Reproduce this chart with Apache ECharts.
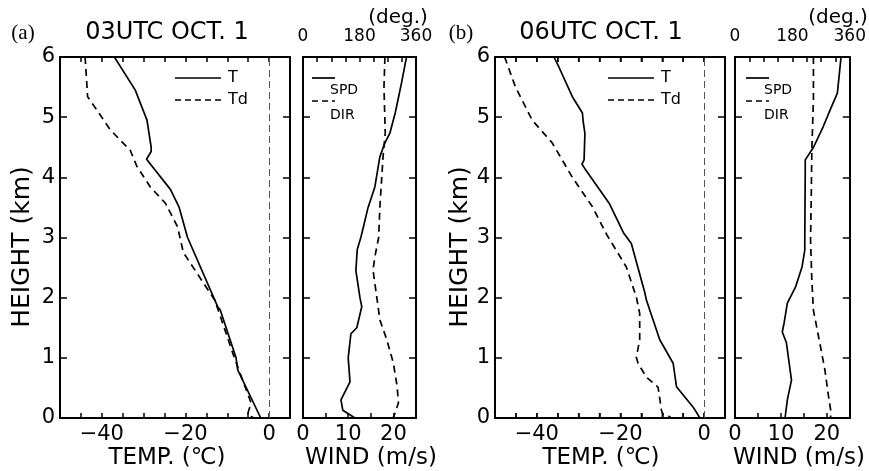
<!DOCTYPE html>
<html>
<head>
<meta charset="utf-8">
<title>Soundings 1 Oct</title>
<script src="https://cdn.jsdelivr.net/npm/echarts@6/dist/echarts.min.js"></script>
<style>
html, body { margin: 0; padding: 0; background: #fff; }
#chart { width: 869px; height: 471px; }
</style>
</head>
<body>
<div id="chart"></div>
<script>
// values: [x value, height km]
const tempA = [[-37, 6], [-32, 5.45], [-29.2, 4.95], [-28.2, 4.5], [-28.2, 4.43], [-29.3, 4.3], [-23.6, 3.8], [-21.5, 3.5], [-19.5, 3], [-12.3, 1.85], [-11.7, 1.8], [-7.9, 1], [-7.5, 0.8], [-2, 0]]
const dewA = [[-44, 6], [-43.6, 5.57], [-43.4, 5.34], [-41.2, 5.12], [-38, 4.79], [-33.2, 4.45], [-31.6, 4.18], [-28.4, 3.84], [-24.8, 3.57], [-21.9, 3.18], [-20.5, 2.75], [-13, 1.96], [-12.2, 1.8], [-8.3, 1], [-4.3, 0.25], [-5.2, 0.05], [-3.5, 0]]
const spdA = [[22.9, 6], [21.8, 5.57], [20.4, 5.07], [19.2, 4.73], [18.1, 4.57], [17, 4.34], [15.9, 3.84], [14.4, 3.5], [12.8, 3], [12, 2.8], [11.7, 2.45], [12.6, 2], [13, 1.85], [11.9, 1.5], [10.6, 1.4], [10, 1], [10.4, 0.6], [8.4, 0.3], [8.8, 0.13], [11.5, 0]]
const dirA = [[261, 6], [258, 5.5], [262, 4.73], [255, 4.34], [245, 3.51], [241, 3], [229, 2.68], [223, 2.46], [235, 2.01], [245, 1.63], [267, 1.3], [288, 0.91], [300, 0.52], [304, 0.25], [293, 0.08], [287, 0]]

const tempB = [[-35.9, 6], [-34.7, 5.83], [-31.5, 5.34], [-29.1, 5.07], [-28.9, 4.92], [-28.5, 4.73], [-28.7, 4.29], [-29.2, 4.22], [-28.3, 4.12], [-22.7, 3.57], [-19.2, 3.07], [-17.4, 2.9], [-14.2, 2.09], [-13.8, 1.96], [-10.6, 1.3], [-7.4, 0.91], [-6.6, 0.52], [-2.6, 0.18], [-1, 0]]
const dewB = [[-47.7, 6], [-45.1, 5.5], [-41.1, 4.95], [-36.3, 4.57], [-31.5, 4], [-26.7, 3.51], [-23.3, 3.05], [-18.6, 2.51], [-16.2, 2.01], [-15.4, 1.74], [-15.4, 1.3], [-16.2, 1.01], [-15.8, 0.91], [-13.8, 0.68], [-11, 0.51], [-10.2, 0.13], [-9.8, 0.05], [-8, 0.02]]
const spdB = [[23.1, 6], [22.3, 5.4], [21, 5.17], [19.2, 4.84], [17.1, 4.5], [15.3, 4.29], [15.3, 4.07], [15.2, 2.96], [15.2, 2.79], [14.6, 2.51], [13.2, 2.18], [11.4, 1.91], [10.7, 1.58], [10.3, 1.43], [11.2, 1.25], [12.3, 0.63], [11.4, 0.3], [10.9, 0]]
const dirB = [[246, 6], [246, 5.3], [241, 4.45], [239, 3.62], [237, 2.96], [241, 2.29], [246, 1.79], [264, 1.3], [282, 0.8], [292, 0.41], [300, 0.13], [300, 0]]

// tick positions and labelled ticks
const tempTicks = [-45, -40, -35, -30, -25, -20, -15, -10, -5, 0]
const tempLabels = [-40, -20, 0]
const windLabels = [0, 10, 20]
const degLabels = [0, 180, 360]

const FONT = 'DejaVu Sans'
const black = '#000'
const TICK = 5

const xAxis = (grid, pos, min, max, step, labels, size) => ({
  id: 'x' + grid + pos,
  gridIndex: grid,
  type: 'value',
  position: pos,
  min: min,
  max: max,
  interval: step,
  axisLine: { show: true, onZero: false, lineStyle: { color: black, width: 2 } },
  splitLine: { show: false },
  axisTick: { show: true, inside: true, length: TICK, lineStyle: { color: black, width: 1.5 } },
  axisLabel: labels ? {
    show: true,
    showMinLabel: true,
    showMaxLabel: true,
    fontFamily: FONT,
    fontSize: size,
    color: black,
    margin: pos === 'top' ? 12 : 6,
    formatter: v => labels.includes(v) ? String(v).replace('-', '\u2212') : ''
  } : { show: false }
})

const yAxis = (grid, pos, labels) => ({
  id: 'y' + grid + pos,
  gridIndex: grid,
  type: 'value',
  position: pos,
  min: 0,
  max: 6,
  interval: 1,
  axisLine: { show: true, onZero: false, lineStyle: { color: black, width: 2 } },
  splitLine: { show: false },
  axisTick: { show: true, inside: true, length: 7, lineStyle: { color: black, width: 1.5 } },
  axisLabel: labels ? { show: true, fontFamily: FONT, fontSize: 21, color: black, margin: 5 } : { show: false }
})

const line = (name, data, xi, yi, dashed) => ({
  name: name,
  type: 'line',
  xAxisIndex: xi,
  yAxisIndex: yi,
  data: data,
  symbol: 'none',
  smooth: false,
  lineStyle: { color: black, width: 1.7, type: dashed ? [7, 5] : 'solid' }
})

// temperature ticks of panel (b) drawn as marks on its own axes
// (the axis ticks of that grid do not render in this build)
const tickMarks = (xi, yi, h, dir) => ({
  type: 'scatter',
  xAxisIndex: xi,
  yAxisIndex: yi,
  silent: true,
  clip: false,
  symbol: 'rect',
  symbolSize: [1.5, TICK],
  symbolOffset: [0, dir * TICK / 2],
  itemStyle: { color: black },
  data: tempTicks.map(v => [v, h])
})

const zeroLine = () => ({
  silent: true,
  symbol: ['none', 'none'],
  label: { show: false },
  lineStyle: { color: '#555', width: 1, type: [7, 4] },
  data: [{ xAxis: 0 }]
})

const txt = (s, x, y, size, opts) => Object.assign({
  type: 'text',
  x: x,
  y: y,
  style: Object.assign({
    text: s,
    font: size + 'px "' + FONT + '"',
    fill: black,
    textAlign: 'center',
    textVerticalAlign: 'middle'
  }, (opts && opts.style) || {})
}, (opts && opts.el) || {})

const seg = (x1, x2, y, dashed) => ({
  type: 'line',
  shape: { x1: x1, y1: y, x2: x2, y2: y },
  style: { stroke: black, lineWidth: 1.7, lineDash: dashed ? [6, 4] : null }
})

// one panel's free text and legend
const panelText = (tag, title, dx, tx, degx, windx, legT, legW) => [
  txt(tag, dx + 23, 33, 21, { style: { font: '21px "Liberation Serif"' } }),
  txt(title, tx, 33, 24),
  txt('(deg.)', degx, 18, 20),
  txt('HEIGHT (km)', dx + 22, 247, 25, { el: { rotation: Math.PI / 2 } }),
  txt('TEMP. (\u2103)', tx, 458, 23),
  txt('WIND (m/s)', windx, 458, 23),
  seg(legT, legT + 46, 78, false),
  txt('T', legT + 53, 78, 16, { style: { textAlign: 'left' } }),
  seg(legT, legT + 46, 100, true),
  txt('Td', legT + 53, 100, 16, { style: { textAlign: 'left' } }),
  seg(legW, legW + 23, 78, false),
  txt('SPD', legW + 18, 90, 14, { style: { textAlign: 'left' } }),
  seg(legW, legW + 23, 101, true),
  txt('DIR', legW + 18, 115, 14, { style: { textAlign: 'left' } })
]

const chart = echarts.init(document.getElementById('chart'))

const tA = line('T', tempA, 0, 0, false)
tA.markLine = zeroLine()
const tB = line('T', tempB, 4, 4, false)
tB.markLine = zeroLine()

chart.setOption({
  backgroundColor: '#fff',
  animation: false,
  grid: [
    { left: 60, top: 57, width: 230, height: 361 },
    { left: 303, top: 57, width: 113, height: 361 },
    { left: 495, top: 57, width: 230, height: 361 },
    { left: 735, top: 57, width: 117, height: 361 }
  ],
  xAxis: [
    xAxis(0, 'bottom', -50, 5, 5, tempLabels, 21),
    xAxis(0, 'top', -50, 5, 5, null),
    xAxis(1, 'bottom', 0, 25, 5, windLabels, 21),
    xAxis(1, 'top', 0, 360, 45, degLabels, 17),
    xAxis(2, 'bottom', -50, 5, 5, tempLabels, 21),
    xAxis(2, 'top', -50, 5, 5, null),
    xAxis(3, 'bottom', 0, 25, 5, windLabels, 21),
    xAxis(3, 'top', 0, 360, 45, degLabels, 17)
  ],
  yAxis: [
    yAxis(0, 'left', true), yAxis(0, 'right', false),
    yAxis(1, 'left', false), yAxis(1, 'right', false),
    yAxis(2, 'left', true), yAxis(2, 'right', false),
    yAxis(3, 'left', false), yAxis(3, 'right', false)
  ],
  series: [
    tA,
    line('Td', dewA, 0, 0, true),
    line('SPD', spdA, 2, 2, false),
    line('DIR', dirA, 3, 2, true),
    tB,
    line('Td', dewB, 4, 4, true),
    line('SPD', spdB, 6, 6, false),
    line('DIR', dirB, 7, 6, true),
    tickMarks(4, 4, 0, -1),
    tickMarks(4, 4, 6, 1)
  ],
  graphic: [
    ...panelText('(a)', '03UTC OCT. 1', 0, 167, 398, 371, 175, 312),
    ...panelText('(b)', '06UTC OCT. 1', 438, 601, 838, 799, 608, 746)
  ]
})
</script>
</body>
</html>
